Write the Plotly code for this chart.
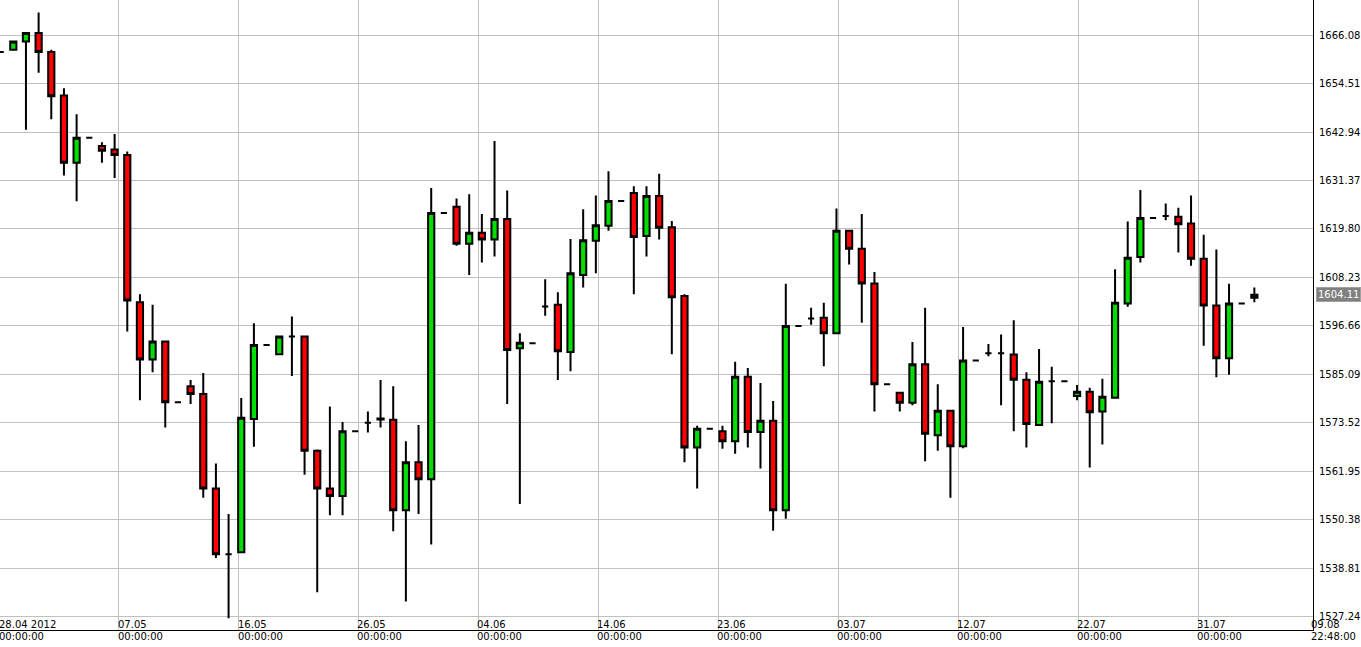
import plotly.graph_objects as go

# daily candles, index 0..99
opens = [1662.1, 1662.6, 1664.6, 1666.6, 1662.1, 1651.7, 1635.6, 1641.6, 1639.6, 1638.8,
         1637.5, 1602.3, 1588.6, 1592.9, 1578.4, 1582.2, 1580.4, 1557.8, 1542.1, 1542.6,
         1574.4, 1592.1, 1589.9, 1594.1, 1594.1, 1566.8, 1557.8, 1556.0, 1571.5, 1573.5,
         1574.3, 1574.2, 1552.6, 1564.1, 1560.0, 1623.6, 1625.1, 1616.3, 1618.9, 1617.3,
         1622.2, 1591.3, 1592.5, 1601.3, 1601.7, 1590.4, 1608.8, 1617.0, 1620.6, 1626.5,
         1628.4, 1618.1, 1627.7, 1620.2, 1603.8, 1567.6, 1572.1, 1571.5, 1569.1, 1584.5,
         1571.3, 1574.0, 1552.6, 1596.6, 1598.4, 1598.6, 1594.9, 1619.4, 1615.1, 1606.8,
         1582.7, 1580.7, 1578.3, 1587.5, 1570.5, 1576.4, 1567.9, 1588.4, 1590.1, 1590.1,
         1589.8, 1583.8, 1573.0, 1583.4, 1583.4, 1579.9, 1580.9, 1576.2, 1579.5, 1602.0,
         1613.1, 1622.4, 1622.9, 1622.7, 1621.1, 1612.7, 1601.5, 1588.9, 1602.0, 1603.4]
closes = [1662.1, 1664.6, 1666.6, 1662.1, 1651.5, 1635.6, 1641.6, 1641.6, 1638.5, 1637.5,
          1602.7, 1588.6, 1592.9, 1578.4, 1578.4, 1580.4, 1557.8, 1542.1, 1542.1, 1574.7,
          1592.1, 1592.1, 1594.1, 1594.1, 1566.8, 1557.8, 1556.0, 1571.5, 1571.5, 1573.5,
          1574.5, 1552.6, 1564.1, 1560.0, 1623.6, 1623.6, 1616.3, 1618.9, 1617.3, 1622.2,
          1590.9, 1592.6, 1592.5, 1601.3, 1590.6, 1609.2, 1617.1, 1620.7, 1626.5, 1626.5,
          1617.9, 1627.7, 1620.1, 1603.5, 1567.6, 1572.1, 1572.1, 1569.1, 1584.5, 1571.3,
          1574.0, 1552.6, 1596.6, 1596.6, 1598.4, 1594.9, 1619.4, 1615.1, 1606.8, 1582.7,
          1582.7, 1578.3, 1587.5, 1570.9, 1576.4, 1567.9, 1588.4, 1588.4, 1590.1, 1590.1,
          1583.8, 1573.2, 1583.3, 1583.4, 1583.4, 1580.9, 1576.0, 1579.7, 1602.2, 1612.9,
          1622.4, 1622.4, 1622.9, 1620.9, 1612.7, 1601.5, 1588.9, 1602.0, 1602.0, 1604.1]
highs = [1662.1, 1664.6, 1666.6, 1671.5, 1662.6, 1653.4, 1647.2, 1641.6, 1640.5, 1642.5,
         1638.3, 1604.2, 1601.7, 1592.9, 1578.4, 1583.7, 1585.4, 1563.8, 1551.7, 1579.4,
         1597.3, 1592.1, 1594.1, 1598.9, 1594.1, 1567.1, 1577.4, 1573.7, 1571.5, 1576.2,
         1583.7, 1582.2, 1569.1, 1573.0, 1629.6, 1623.6, 1627.1, 1628.1, 1623.4, 1640.8,
         1629.0, 1594.9, 1592.5, 1607.8, 1604.7, 1617.4, 1624.5, 1627.8, 1633.6, 1626.5,
         1630.0, 1630.0, 1633.0, 1621.7, 1604.2, 1572.8, 1572.1, 1572.8, 1588.1, 1586.6,
         1583.0, 1578.7, 1606.7, 1596.6, 1601.0, 1602.2, 1624.7, 1619.4, 1623.4, 1609.5,
         1582.7, 1580.7, 1592.8, 1601.0, 1582.7, 1576.4, 1596.4, 1588.4, 1592.3, 1594.6,
         1598.0, 1585.6, 1591.1, 1586.9, 1583.4, 1582.5, 1581.9, 1584.0, 1610.2, 1621.6,
         1629.1, 1622.4, 1625.9, 1624.9, 1627.8, 1618.4, 1614.9, 1606.7, 1602.0, 1605.8]
lows = [1662.1, 1662.6, 1643.5, 1657.1, 1646.0, 1632.6, 1626.4, 1641.6, 1635.6, 1632.0,
        1595.3, 1578.9, 1585.6, 1572.4, 1578.4, 1578.0, 1555.6, 1541.2, 1526.8, 1542.6,
        1567.8, 1592.1, 1589.9, 1584.7, 1561.1, 1533.0, 1551.4, 1551.4, 1571.5, 1571.2,
        1572.4, 1547.6, 1530.8, 1551.7, 1544.4, 1623.6, 1615.8, 1608.8, 1611.8, 1613.2,
        1578.0, 1554.1, 1592.5, 1599.1, 1583.7, 1585.8, 1605.8, 1609.2, 1619.4, 1626.5,
        1604.2, 1613.2, 1617.3, 1589.9, 1564.1, 1557.8, 1572.1, 1567.3, 1566.1, 1567.6,
        1562.6, 1547.7, 1550.6, 1596.6, 1596.9, 1587.0, 1594.9, 1611.3, 1597.4, 1576.2,
        1582.7, 1576.2, 1577.7, 1564.3, 1566.8, 1555.6, 1567.4, 1588.4, 1589.4, 1577.7,
        1571.5, 1567.6, 1573.0, 1573.4, 1583.4, 1578.9, 1562.8, 1568.3, 1579.5, 1601.2,
        1611.8, 1622.4, 1621.9, 1614.2, 1611.0, 1591.9, 1584.4, 1585.0, 1602.0, 1602.3]

y_ticks = [1527.24, 1538.81, 1550.38, 1561.95, 1573.52, 1585.09, 1596.66,
           1608.23, 1619.80, 1631.37, 1642.94, 1654.51, 1666.08]
date_labels = ["07.05", "16.05", "26.05", "04.06", "14.06", "23.06",
               "03.07", "12.07", "22.07", "31.07"]
last_price = 1604.11

PX = 12.67  # pixels per candle
grid_x = [(118 + 120 * i) / PX for i in range(len(date_labels))]
idx = list(range(len(opens)))

fig = go.Figure(go.Candlestick(
    x=idx, open=opens, high=highs, low=lows, close=closes,
    increasing=dict(fillcolor="#00dd00", line=dict(color="black", width=2)),
    decreasing=dict(fillcolor="#ff0000", line=dict(color="black", width=2)),
    whiskerwidth=0, showlegend=False, hoverinfo="x+y"))

font = dict(family="DejaVu Sans", size=10, color="black")
ann = []
for gx, lab in zip(grid_x, date_labels):
    ann.append(dict(x=gx, y=0, xref="x", yref="paper", text=lab, showarrow=False,
                    xanchor="left", yanchor="bottom", xshift=-3, yshift=-2, font=font))
    ann.append(dict(x=gx, y=0, xref="x", yref="paper", text="00:00:00", showarrow=False,
                    xanchor="left", yanchor="top", xshift=-3, yshift=1, font=font))
ann.append(dict(x=0, y=0, xref="paper", yref="paper", text="28.04 2012", showarrow=False,
                xanchor="left", yanchor="bottom", xshift=-3, yshift=-2, font=font))
ann.append(dict(x=0, y=0, xref="paper", yref="paper", text="00:00:00", showarrow=False,
                xanchor="left", yanchor="top", xshift=-3, yshift=1, font=font))
ann.append(dict(x=1, y=0, xref="paper", yref="paper", text="09.08", showarrow=False,
                xanchor="left", yanchor="bottom", xshift=-4, yshift=-2, font=font))
ann.append(dict(x=1, y=0, xref="paper", yref="paper", text="22:48:00", showarrow=False,
                xanchor="left", yanchor="top", xshift=-4, yshift=1, font=font))
ann.append(dict(x=1, y=last_price, xref="paper", yref="y", text=str(last_price),
                showarrow=False, xanchor="left", xshift=3, bgcolor="#808080",
                bordercolor="#a0a0a0", borderpad=1,
                font=dict(family="DejaVu Sans", size=10, color="white")))

fig.update_layout(
    width=1361, height=647,
    margin=dict(l=0, r=48, t=0, b=17, autoexpand=False),
    paper_bgcolor="white", plot_bgcolor="white",
    xaxis=dict(range=[-0.05, 1313 / PX], tickvals=grid_x, showticklabels=False,
               showgrid=True, gridcolor="#c0c0c0", gridwidth=1, zeroline=False,
               showline=True, linecolor="black", linewidth=1, mirror=True,
               automargin=False, rangeslider=dict(visible=False)),
    yaxis=dict(range=[1524.0, 1674.5], side="right", tickvals=y_ticks,
               ticktext=["%.2f" % v for v in y_ticks], tickfont=font,
               showgrid=True, gridcolor="#c0c0c0", gridwidth=1, zeroline=False,
               showline=True, linecolor="black", linewidth=1, mirror=True,
               automargin=False, ticks="", ticklabelstandoff=3),
    annotations=ann,
)

fig.write_html("out.html", config={"displayModeBar": False},
               post_script="document.body.style.margin='0';")
